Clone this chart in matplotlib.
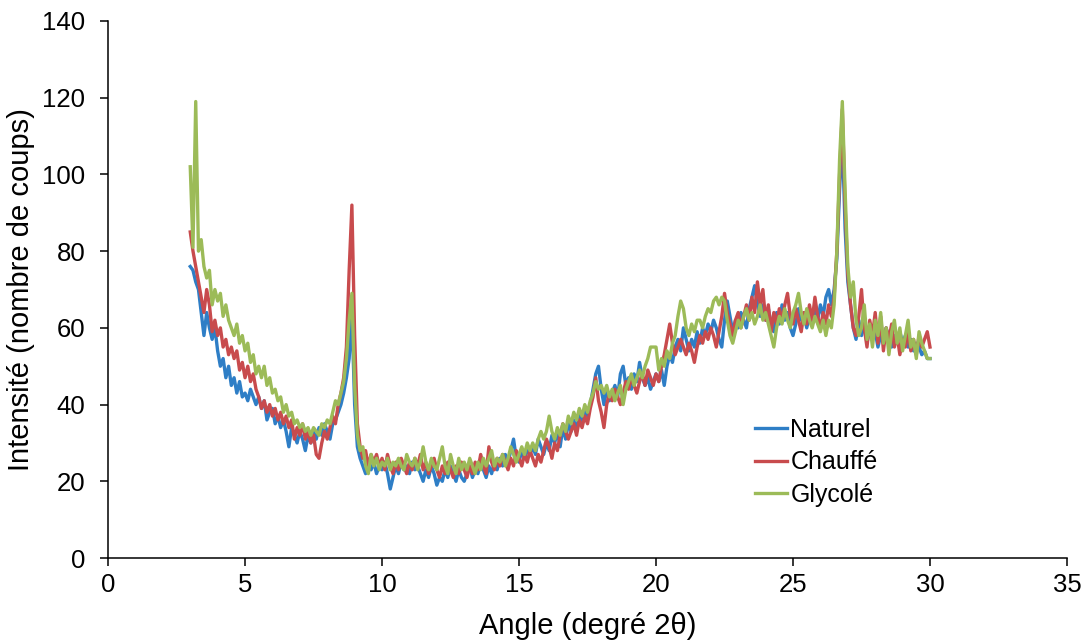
import numpy as np
import matplotlib
matplotlib.use('Agg')
import matplotlib.pyplot as plt

plt.rcParams['font.family'] = ['Liberation Sans', 'DejaVu Sans']

# angle grid 3.0 -> 30.0 deg, step 0.1
angle = np.round(np.arange(30, 301) / 10.0, 1)

naturel = [
    76, 75, 72, 70, 64, 58, 64, 60, 57, 60,
    54, 50, 52, 47, 50, 45, 47, 43, 46, 42,
    43, 41, 44, 42, 40, 42, 39, 41, 36, 38,
    39, 35, 37, 34, 36, 33, 29, 34, 32, 30,
    33, 31, 28, 32, 30, 33, 31, 34, 32, 35,
    33, 31, 35, 36, 38, 40, 43, 47, 52, 64,
    40, 29, 26, 24, 22, 25, 23, 25, 22, 24,
    23, 25, 22, 18, 21, 24, 22, 25, 23, 24,
    22, 25, 23, 24, 22, 20, 23, 21, 24, 22,
    19, 21, 20, 23, 21, 24, 22, 20, 23, 21,
    20, 22, 24, 21, 23, 22, 25, 23, 21, 24,
    22, 25, 23, 26, 24, 27, 25, 28, 31, 26,
    25, 28, 26, 28, 27, 29, 27, 31, 29, 27,
    30, 28, 32, 30, 33, 29, 34, 31, 35, 33,
    36, 33, 38, 35, 39, 37, 40, 44, 48, 50,
    44, 40, 44, 41, 43, 45, 42, 48, 50, 45,
    47, 44, 48, 46, 51, 47, 45, 47, 44, 46,
    48, 46, 49, 45, 50, 53, 51, 55, 57, 54,
    60, 57, 54, 57, 55, 59, 56, 60, 58, 61,
    59, 62, 60, 57, 55, 62, 67, 63, 59, 62,
    60, 64, 62, 60, 65, 68, 71, 66, 63, 66,
    62, 65, 61, 59, 64, 61, 66, 62, 64, 60,
    58, 61, 65, 62, 64, 60, 63, 61, 65, 62,
    66, 63, 68, 70, 66, 70, 78, 96, 110, 86,
    72, 66, 60, 57, 62, 58, 61, 56, 60, 57,
    59, 55, 58, 56, 60, 57, 55, 58, 56, 59,
    56, 58, 55, 57, 54, 56, 55, 53, 54, 52,
    52,
]

chauffe = [
    85, 80, 76, 72, 68, 64, 70, 66, 59, 62,
    58, 60, 55, 57, 53, 55, 52, 54, 49, 51,
    47, 50, 46, 48, 44, 42, 39, 41, 38, 40,
    37, 39, 36, 38, 35, 37, 34, 36, 31, 34,
    32, 35, 31, 33, 30, 32, 27, 26, 30, 33,
    31, 34, 37, 35, 40, 43, 47, 55, 75, 92,
    58, 35, 29, 26, 28, 24, 27, 25, 27, 24,
    26, 23, 27, 24, 22, 25, 23, 26, 24, 22,
    25, 23, 26, 24, 27, 23, 25, 22, 24, 26,
    23, 21, 24, 22, 25, 23, 21, 24, 22, 25,
    23, 21, 24, 22, 25, 23, 27, 24, 22, 29,
    25, 23, 26, 24, 27, 25, 23, 26, 24, 28,
    26, 24, 27, 25, 28, 26, 24, 27, 25, 28,
    31, 29, 26, 30, 28, 32, 35, 33, 31, 33,
    35, 32, 36, 34, 37, 35, 39, 42, 47, 41,
    38, 34, 40, 43, 41, 44, 42, 40, 43, 46,
    44, 47, 45, 43, 46, 48, 45, 49, 47, 45,
    48, 46, 50, 53, 57, 61, 56, 53, 55, 57,
    55, 53, 56, 54, 51, 55, 58, 56, 59, 57,
    60, 58, 55, 59, 63, 69, 64, 61, 58, 62,
    64, 60, 63, 66, 62, 68, 64, 72, 66, 70,
    62, 66, 59, 64, 61, 65, 62, 66, 69, 63,
    61, 65, 62, 59, 64, 61, 66, 62, 68, 63,
    60, 64, 61, 66, 63, 68, 80, 100, 117, 92,
    74, 66, 60, 58, 63, 70, 60, 55, 62, 58,
    64, 56, 63, 54, 60, 57, 61, 55, 58, 53,
    57, 55, 59, 54, 57, 53, 58, 55, 57, 59,
    55,
]

glycole = [
    102, 81, 119, 80, 83, 76, 73, 75, 66, 70,
    67, 69, 63, 66, 62, 60, 58, 61, 56, 58,
    54, 56, 51, 53, 48, 50, 47, 50, 45, 47,
    43, 44, 41, 42, 38, 40, 37, 38, 35, 36,
    34, 35, 33, 34, 32, 34, 33, 32, 35, 34,
    36, 35, 38, 41, 40, 43, 46, 52, 62, 69,
    45, 32, 28, 29, 24, 22, 27, 24, 26, 23,
    25, 24, 26, 23, 25, 24, 26, 24, 23, 27,
    25, 24, 26, 23, 25, 29, 25, 23, 26, 24,
    23, 26, 29, 24, 22, 27, 24, 22, 26, 23,
    25, 23, 26, 24, 22, 25, 23, 26, 24, 26,
    28, 24, 26, 25, 27, 24, 26, 29, 27, 25,
    27, 29, 27, 30, 28, 30, 28, 31, 33, 31,
    33, 37, 33, 31, 34, 32, 35, 33, 37, 35,
    38, 36, 39, 37, 40, 38, 41, 43, 46, 44,
    45, 43, 45, 42, 44, 41, 43, 45, 40, 44,
    46, 48, 45, 47, 49, 47, 50, 52, 55, 55,
    55, 49, 52, 50, 54, 52, 56, 58, 63, 67,
    65, 60, 58, 61, 59, 62, 62, 60, 63, 65,
    64, 67, 68, 66, 68, 67, 62, 58, 56, 59,
    62, 60, 63, 65, 62, 64, 61, 63, 66, 62,
    64, 61, 58, 55, 60, 63, 61, 65, 62, 60,
    64, 66, 69, 64, 61, 65, 62, 60, 63, 61,
    59, 62, 58, 62, 60, 66, 80, 104, 119, 96,
    76, 68, 72, 62, 58, 60, 66, 57, 61, 55,
    62, 58, 64, 56, 60, 53, 59, 62, 56, 60,
    54, 58, 62, 55, 57, 52, 59, 56, 54, 52,
    52,
]

labels = ['Naturel', 'Chauffé', 'Glycolé']
colors = ['#2E7EC6', '#C84B4D', '#9CBB58']

fig = plt.figure(figsize=(10.87, 6.42), dpi=100)
ax = fig.add_axes([0.0994, 0.1308, 0.8822, 0.8365])

for serie, lab, col in zip([naturel, chauffe, glycole], labels, colors):
    ax.plot(angle, serie, color=col, lw=2.4, label=lab)

ax.set_xlim(0, 35)
ax.set_ylim(0, 140)
ax.set_xticks(np.arange(0, 36, 5))
ax.set_yticks(np.arange(0, 141, 20))
ax.spines['top'].set_visible(False)
ax.spines['right'].set_visible(False)
ax.spines['left'].set_linewidth(1.1)
ax.spines['bottom'].set_linewidth(1.1)
ax.tick_params(axis='both', direction='out', length=5.5, width=1.1, labelsize=18.5)
ax.tick_params(axis='y', pad=11)
ax.tick_params(axis='x', pad=5)

ax.set_xlabel('Angle (degré 2θ)', fontsize=21, labelpad=11)
ax.set_ylabel('Intensité (nombre de coups)', fontsize=21, labelpad=5)

ax.legend(loc='center left', bbox_to_anchor=(0.675, 0.178), frameon=False,
          fontsize=18, handlelength=1.25, handletextpad=0.15, labelspacing=0.35,
          borderpad=0, borderaxespad=0)

fig.savefig('out.png', dpi=100)
